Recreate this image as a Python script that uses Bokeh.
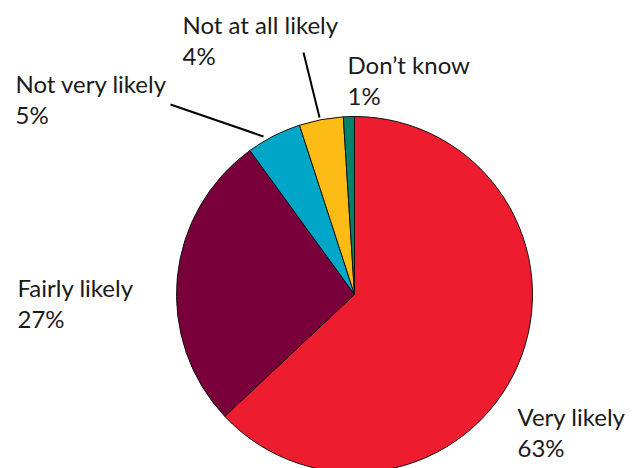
import numpy as np
from bokeh.plotting import figure
from bokeh.models import Range1d, ColumnDataSource
from bokeh.core.properties import value
from bokeh.embed import file_html
from bokeh.resources import INLINE

categories = ["Very likely", "Fairly likely", "Not very likely", "Not at all likely", "Don\u2019t know"]
percents = [63, 27, 5, 4, 1]
colors = ["#ED1C2E", "#7A003C", "#00A6C8", "#FDBC15", "#00836A"]

W, H = 638, 468
cx, cy, r = 354, H - 294, 178

frac = np.array(percents, dtype=float) / sum(percents)
cum = np.concatenate([[0], np.cumsum(frac)])
start = np.pi / 2 - 2 * np.pi * cum[:-1]
end = np.pi / 2 - 2 * np.pi * cum[1:]

p = figure(width=W, height=H, x_range=Range1d(0, W), y_range=Range1d(0, H),
           output_backend="svg", toolbar_location=None,
           x_axis_location=None, y_axis_location=None, min_border=0)
p.outline_line_color = None
p.grid.visible = False

src = ColumnDataSource(dict(start=start, end=end, color=colors))
p.wedge(x=cx, y=cy, radius=r, start_angle="start", end_angle="end",
        direction="clock", fill_color="color", line_color="#111111",
        line_width=1, source=src)

# leader lines (screen coords -> data)
leaders = [((170, 104), (263, 136)), ((303, 52), (319, 117))]
for (x0, y0), (x1, y1) in leaders:
    p.line([x0, x1], [H - y0, H - y1], line_color="black", line_width=2)

# label positions: left x, baseline of first line
label_pos = {
    "Very likely": (517, 416),
    "Fairly likely": (17, 287),
    "Not very likely": (15, 83),
    "Not at all likely": (182, 24),
    "Don\u2019t know": (347, 64),
}
lx, ly, lt = [], [], []
for cat, pct in zip(categories, percents):
    x, y = label_pos[cat]
    lx += [x, x]
    ly += [H - y, H - y - 31]
    lt += [cat, f"{pct}%"]
p.text(x=lx, y=ly, text=lt, text_font=value("Lato"), text_font_size="24px",
       text_color="#1a1a1a", text_baseline="alphabetic", text_align="left")

open("out.html", "w").write(file_html(p, INLINE))
